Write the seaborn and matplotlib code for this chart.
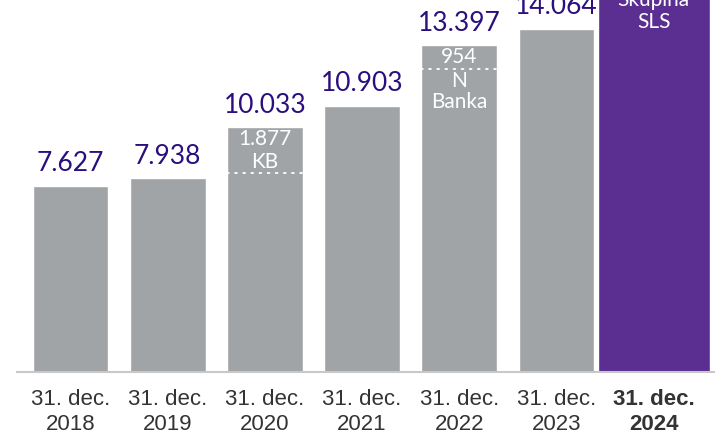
import matplotlib
matplotlib.use("Agg")
import matplotlib.pyplot as plt
import seaborn as sns
import pandas as pd

# ---- data ----
categories = ["31. dec.\n2018", "31. dec.\n2019", "31. dec.\n2020", "31. dec.\n2021",
              "31. dec.\n2022", "31. dec.\n2023", "31. dec.\n2024"]
values = [7627, 7938, 10033, 10903, 13397, 14064, 16700]
acq_amounts = [0, 0, 1877, 0, 954, 0, 950]
acq_names = ["", "", "KB", "", "N\nBanka", "", "Skupina\nSLS"]
show_value = [True, True, True, True, True, True, False]

GREY = "#a1a4a7"
PURPLE = "#5b2e92"
LABEL = "#2b0f7e"
TICK = "#333333"

sns.set_theme(style="white")
plt.rcParams['font.family'] = ['Liberation Sans', 'DejaVu Sans']
NUMFONT = ['Lato', 'DejaVu Sans']

fig = plt.figure(figsize=(7.15, 4.41), dpi=100)
ax = fig.add_axes([17/715, 69/441, 698/715, 372/441])

df = pd.DataFrame({"cat": categories, "val": values})
sns.barplot(data=df.iloc[:6], x="cat", y="val", order=categories, color=GREY,
            width=0.78, saturation=1, ax=ax)
sns.barplot(data=df.iloc[6:], x="cat", y="val", order=categories, color=PURPLE,
            width=1.15, saturation=1, ax=ax)

ax.set_xlim(-0.55, 6.63)
ax.set_ylim(0, 15252)
ax.set_xlabel("")
ax.set_ylabel("")
ax.set_yticks([])
for s in ["left", "top", "right"]:
    ax.spines[s].set_visible(False)
ax.spines["bottom"].set_color("#c8c8c8")
ax.spines["bottom"].set_linewidth(1.5)
ax.tick_params(axis="x", length=0, pad=12)
for i, t in enumerate(ax.get_xticklabels()):
    t.set_fontsize(16)
    t.set_color(TICK)
    t.set_linespacing(1.25)
    if i == len(categories) - 1:
        t.set_fontweight("bold")

patches = ax.patches
for i, v in enumerate(values):
    p = patches[i]
    if show_value[i]:
        ax.annotate(f"{v:,}".replace(",", "."), (i, v), xytext=(0, 7),
                    textcoords="offset points", ha="center", va="bottom",
                    fontsize=19, color=LABEL, family=NUMFONT)
    a = acq_amounts[i]
    if a:
        ly = v - a
        ax.plot([p.get_x(), p.get_x() + p.get_width()], [ly, ly], color="white",
                lw=1.3, ls=(0, (1, 3.5)), dash_capstyle="round")
        seg_px = a * 372 / 15252
        if seg_px > 40:
            ax.text(i, v - a / 2, f"{a:,}".replace(",", ".") + "\n" + acq_names[i],
                    ha="center", va="center", fontsize=15, color="white",
                    family=NUMFONT, linespacing=1.2)
        else:
            if i != len(values) - 1:
                ax.text(i, v - a / 2, f"{a:,}".replace(",", "."), ha="center",
                        va="center", fontsize=15, color="white", family=NUMFONT)
            ax.annotate(acq_names[i], (i, ly), xytext=(0, -1.5), textcoords="offset points",
                        ha="center", va="top", fontsize=15, color="white",
                        family=NUMFONT, linespacing=1.1, annotation_clip=False)

fig.savefig("out.png", dpi=100)
